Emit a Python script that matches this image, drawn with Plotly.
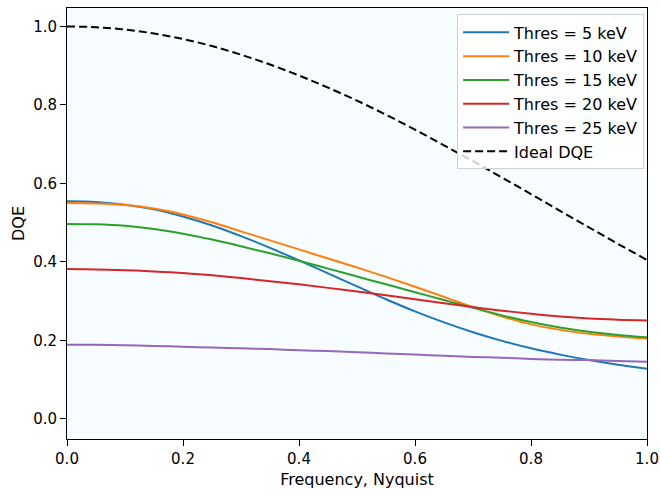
import plotly.graph_objects as go

# Spatial frequency (fraction of Nyquist)
freq = [0.00, 0.05, 0.10, 0.15, 0.20, 0.25, 0.30, 0.35, 0.40, 0.45, 0.50,
        0.55, 0.60, 0.65, 0.70, 0.75, 0.80, 0.85, 0.90, 0.95, 1.00]

# DQE per energy threshold
dqe_5kev = [0.555, 0.553, 0.546, 0.534, 0.516, 0.493, 0.466, 0.436, 0.404, 0.371, 0.338,
            0.305, 0.274, 0.246, 0.221, 0.199, 0.180, 0.164, 0.150, 0.138, 0.128]
dqe_10kev = [0.550, 0.549, 0.545, 0.536, 0.521, 0.501, 0.478, 0.455, 0.432, 0.409, 0.386,
             0.362, 0.337, 0.311, 0.285, 0.261, 0.241, 0.227, 0.217, 0.210, 0.205]
dqe_15kev = [0.497, 0.496, 0.492, 0.484, 0.472, 0.457, 0.440, 0.422, 0.403, 0.383, 0.363,
             0.343, 0.323, 0.303, 0.283, 0.264, 0.247, 0.233, 0.222, 0.214, 0.208]
dqe_20kev = [0.382, 0.381, 0.379, 0.376, 0.372, 0.366, 0.359, 0.351, 0.343, 0.334, 0.325,
             0.315, 0.305, 0.295, 0.285, 0.276, 0.268, 0.261, 0.256, 0.253, 0.251]
dqe_25kev = [0.189, 0.189, 0.188, 0.186, 0.184, 0.182, 0.180, 0.178, 0.175, 0.173, 0.170,
             0.167, 0.164, 0.161, 0.158, 0.156, 0.153, 0.151, 0.150, 0.148, 0.146]
dqe_ideal = [1.000, 0.998, 0.992, 0.982, 0.968, 0.950, 0.928, 0.903, 0.875, 0.844, 0.811,
             0.775, 0.737, 0.697, 0.657, 0.615, 0.573, 0.530, 0.488, 0.446, 0.405]

series = [
    ("Thres = 5 keV", dqe_5kev, "#1f77b4", "solid"),
    ("Thres = 10 keV", dqe_10kev, "#ff7f0e", "solid"),
    ("Thres = 15 keV", dqe_15kev, "#2ca02c", "solid"),
    ("Thres = 20 keV", dqe_20kev, "#d62728", "solid"),
    ("Thres = 25 keV", dqe_25kev, "#9467bd", "solid"),
    ("Ideal DQE", dqe_ideal, "#000000", "8px,4px"),
]

fig = go.Figure()
for i, (name, vals, color, dash) in enumerate(series):
    fig.add_trace(go.Scatter(
        x=freq, y=vals, mode="lines", name=name, legendgroup=f"g{i}",
        line=dict(color=color, width=2, dash=dash, shape="spline", smoothing=1.0),
    ))

tick_font = dict(family="DejaVu Sans", size=15, color="#000000")
label_font = dict(family="DejaVu Sans", size=16, color="#000000")
axis_common = dict(
    showline=True, linecolor="#000000", linewidth=1, mirror=True,
    ticks="outside", ticklen=6, tickwidth=1, tickcolor="#000000",
    showgrid=False, zeroline=False, tickfont=tick_font, automargin=False,
)

fig.update_layout(
    width=660, height=490,
    margin=dict(l=67, r=13, t=8, b=51),
    paper_bgcolor="#ffffff",
    plot_bgcolor="#f7fcfe",
    font=label_font,
    showlegend=True,
    legend=dict(
        x=0.995, y=0.985, xanchor="right", yanchor="top",
        bgcolor="rgba(255,255,255,0.8)", bordercolor="#d0d0d0", borderwidth=1,
        font=label_font, tracegroupgap=0, itemwidth=46,
    ),
    xaxis=dict(range=[0, 1], tickvals=[0, 0.2, 0.4, 0.6, 0.8, 1.0],
               ticktext=["0.0", "0.2", "0.4", "0.6", "0.8", "1.0"],
               title=dict(text="Frequency, Nyquist", font=label_font, standoff=6),
               **axis_common),
    yaxis=dict(range=[-0.051, 1.047], tickvals=[0, 0.2, 0.4, 0.6, 0.8, 1.0],
               ticktext=["0.0", "0.2", "0.4", "0.6", "0.8", "1.0"],
               title=dict(text="DQE", font=label_font, standoff=4),
               **axis_common),
)

fig.write_html("out.html")
